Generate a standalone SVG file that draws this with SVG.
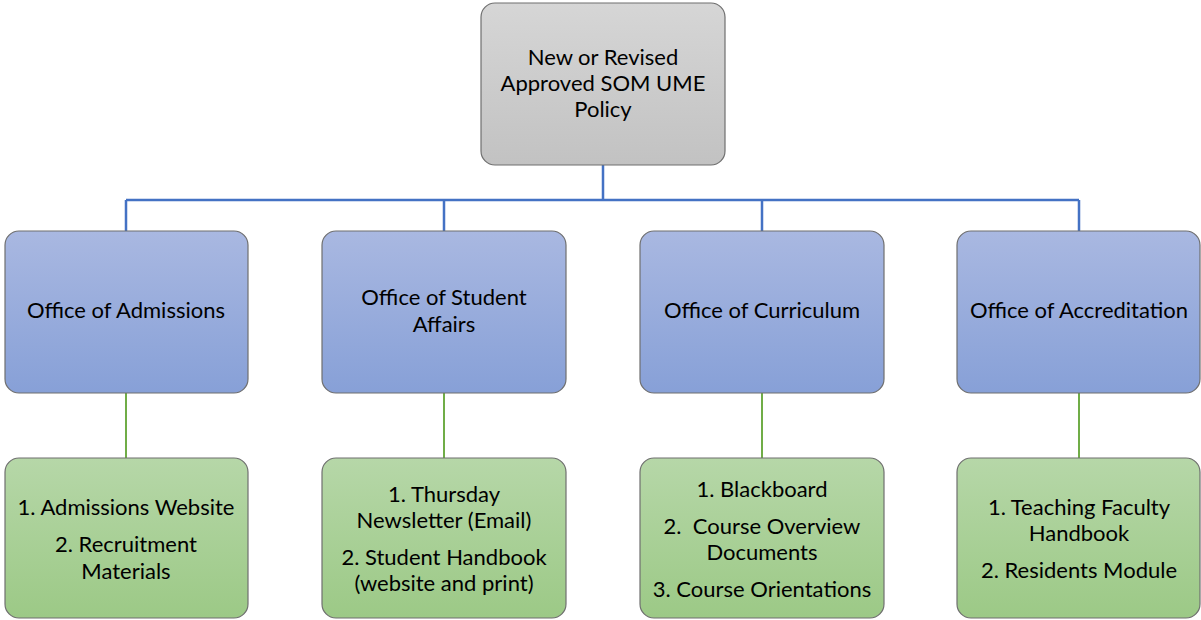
<svg xmlns="http://www.w3.org/2000/svg" width="1201" height="620" viewBox="0 0 1201 620">
<defs>
<linearGradient id="gGray" x1="0" y1="0" x2="0" y2="1"><stop offset="0" stop-color="#d6d6d6"/><stop offset="1" stop-color="#c2c2c2"/></linearGradient>
<linearGradient id="gBlue" x1="0" y1="0" x2="0" y2="1"><stop offset="0" stop-color="#a9b8e1"/><stop offset="1" stop-color="#87a0d7"/></linearGradient>
<linearGradient id="gGreen" x1="0" y1="0" x2="0" y2="1"><stop offset="0" stop-color="#b6d7a8"/><stop offset="1" stop-color="#9cc986"/></linearGradient>
</defs>
<style>
.box{stroke:#6f6f6f;stroke-width:1.2}
.gray{fill:url(#gGray)}
.blue{fill:url(#gBlue)}
.green{fill:url(#gGreen)}
text{font-family:Lato,"Noto Sans",sans-serif;font-size:22px;fill:#000;text-anchor:middle}
.cb{fill:none;stroke:#4472c4;stroke-width:2.5}
.cg{fill:none;stroke:#70ad47;stroke-width:2}
</style>
<g id="connectors">
<path class="cb" d="M603 165V200M126 200H1079M126 200V231M444 200V231M762 200V231M1079 200V231"/>
<path class="cg" d="M126 393V458M444 393V458M762 393V458M1079 393V458"/>
</g>
<g id="policy">
<rect class="box gray" x="481" y="3" width="244" height="162" rx="14"/>
<text x="603" y="65">New or Revised</text>
<text x="603" y="91">Approved SOM UME</text>
<text x="603" y="117">Policy</text>
</g>
<g id="admissions">
<rect class="box blue" x="5" y="231" width="243" height="162" rx="14"/>
<text x="126" y="318">Office of Admissions</text>
</g>
<g id="student-affairs">
<rect class="box blue" x="322" y="231" width="244" height="162" rx="14"/>
<text x="444" y="305">Office of Student</text>
<text x="444" y="332">Affairs</text>
</g>
<g id="curriculum">
<rect class="box blue" x="640" y="231" width="244" height="162" rx="14"/>
<text x="762" y="318">Office of Curriculum</text>
</g>
<g id="accreditation">
<rect class="box blue" x="957" y="231" width="243" height="162" rx="14"/>
<text x="1079" y="318">Office of Accreditation</text>
</g>
<g id="admissions-items">
<rect class="box green" x="5" y="458" width="243" height="160" rx="14"/>
<text x="126" y="515">1. Admissions Website</text>
<text x="126" y="552">2. Recruitment</text>
<text x="126" y="579">Materials</text>
</g>
<g id="student-affairs-items">
<rect class="box green" x="322" y="458" width="244" height="160" rx="14"/>
<text x="444" y="502">1. Thursday</text>
<text x="444" y="528">Newsletter (Email)</text>
<text x="444" y="565">2. Student Handbook</text>
<text x="444" y="591">(website and print)</text>
</g>
<g id="curriculum-items">
<rect class="box green" x="640" y="458" width="244" height="160" rx="14"/>
<text x="762" y="497">1. Blackboard</text>
<text x="762" y="534" xml:space="preserve">2.  Course Overview</text>
<text x="762" y="560">Documents</text>
<text x="762" y="597">3. Course Orientations</text>
</g>
<g id="accreditation-items">
<rect class="box green" x="957" y="458" width="243" height="160" rx="14"/>
<text x="1079" y="515">1. Teaching Faculty</text>
<text x="1079" y="541">Handbook</text>
<text x="1079" y="578">2. Residents Module</text>
</g>
</svg>
